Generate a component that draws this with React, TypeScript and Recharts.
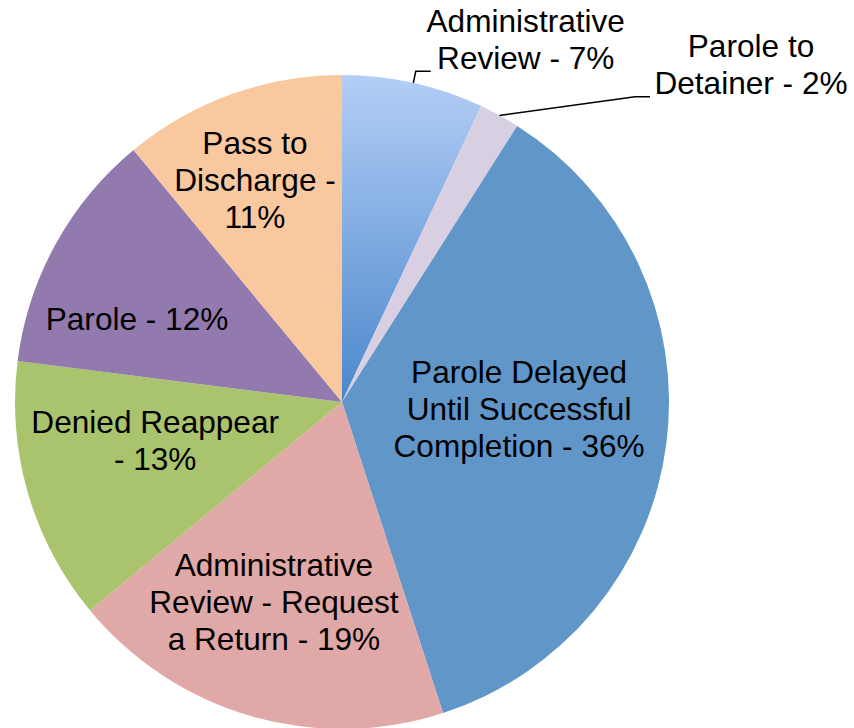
import { Cell, Pie, PieChart } from "recharts";

// slices in drawing order, clockwise from 12 o'clock
const categories = [
  "Administrative Review",
  "Parole to Detainer",
  "Parole Delayed Until Successful Completion",
  "Administrative Review - Request a Return",
  "Denied Reappear",
  "Parole",
  "Pass to Discharge",
];
const shares = [7, 2, 36, 19, 13, 12, 11];

// how many words of "<name> - <value>%" go on each label line
const wordsPerLine = [[1, 3], [2, 3], [2, 2, 3], [1, 3, 4], [2, 2], [3], [2, 2, 1]];

const colors = ["url(#arGrad)", "#d8cfe3", "#6196c9", "#e0a8a6", "#a9c46c", "#9279ae", "#f9c89f"];

// label block centre: radius as a fraction of the pie radius, angle nudge (deg, clockwise)
const labelPlace = [
  { r: 1.242, turn: 14.3, leader: [-95, 31.5] },
  { r: 1.621, turn: 21.7, leader: [-101, 32] },
  { r: 0.542, turn: -4.9 },
  { r: 0.646, turn: 2.6 },
  { r: 0.583, turn: 4.7 },
  { r: 0.676, turn: -6.8 },
  { r: 0.729, turn: -1.6 },
];

const data = categories.map((name, i) => ({ name, value: shares[i] }));

const FONT = "'Liberation Sans', Arial, sans-serif";
const LINE_H = 37;

function splitLines(text: string, counts: number[]) {
  const words = text.split(" ");
  const out: string[] = [];
  let k = 0;
  for (const c of counts) {
    out.push(words.slice(k, k + c).join(" "));
    k += c;
  }
  return out;
}

function renderLabel(props: any) {
  const { cx, cy, midAngle, outerRadius, index, name, value } = props;
  const place = labelPlace[index];
  const cw = 90 - midAngle;
  const th = ((cw + place.turn) * Math.PI) / 180;
  const x = cx + place.r * outerRadius * Math.sin(th);
  const y = cy - place.r * outerRadius * Math.cos(th);
  const lines = splitLines(`${name} - ${value}%`, wordsPerLine[index]);
  const firstBase = y - ((lines.length - 1) * LINE_H) / 2 + 11;

  let leader = null;
  if (place.leader) {
    const a = (cw * Math.PI) / 180;
    const sx = cx + outerRadius * Math.sin(a);
    const sy = cy - outerRadius * Math.cos(a);
    const ex = x + place.leader[0];
    const ey = y + place.leader[1];
    leader = (
      <polyline
        points={`${sx},${sy} ${ex - 15},${ey} ${ex},${ey}`}
        fill="none"
        stroke="#000"
        strokeWidth={1.5}
      />
    );
  }

  return (
    <g key={`lbl-${index}`}>
      {leader}
      <text x={x} y={firstBase} textAnchor="middle" fontFamily={FONT} fontSize={31.6} fill="#000">
        {lines.map((ln, i) => (
          <tspan key={i} x={x} dy={i === 0 ? 0 : LINE_H}>
            {ln}
          </tspan>
        ))}
      </text>
    </g>
  );
}

export default function App() {
  return (
    <div style={{ position: "absolute", left: 0, top: 0, width: 854, height: 728, background: "#fff" }}>
      <PieChart width={854} height={728} margin={{ top: 0, right: 0, bottom: 0, left: 0 }}>
        <defs>
          <linearGradient id="arGrad" x1="0" y1="0" x2="0" y2="1">
            <stop offset="0%" stopColor="#b4cef6" />
            <stop offset="100%" stopColor="#4a87cb" />
          </linearGradient>
        </defs>
        <Pie
          data={data}
          dataKey="value"
          nameKey="name"
          cx={342}
          cy={402}
          outerRadius={327}
          startAngle={90}
          endAngle={-270}
          stroke="none"
          label={renderLabel}
          labelLine={false}
          isAnimationActive={false}
        >
          {data.map((d, i) => (
            <Cell key={d.name} fill={colors[i]} />
          ))}
        </Pie>
      </PieChart>
    </div>
  );
}
